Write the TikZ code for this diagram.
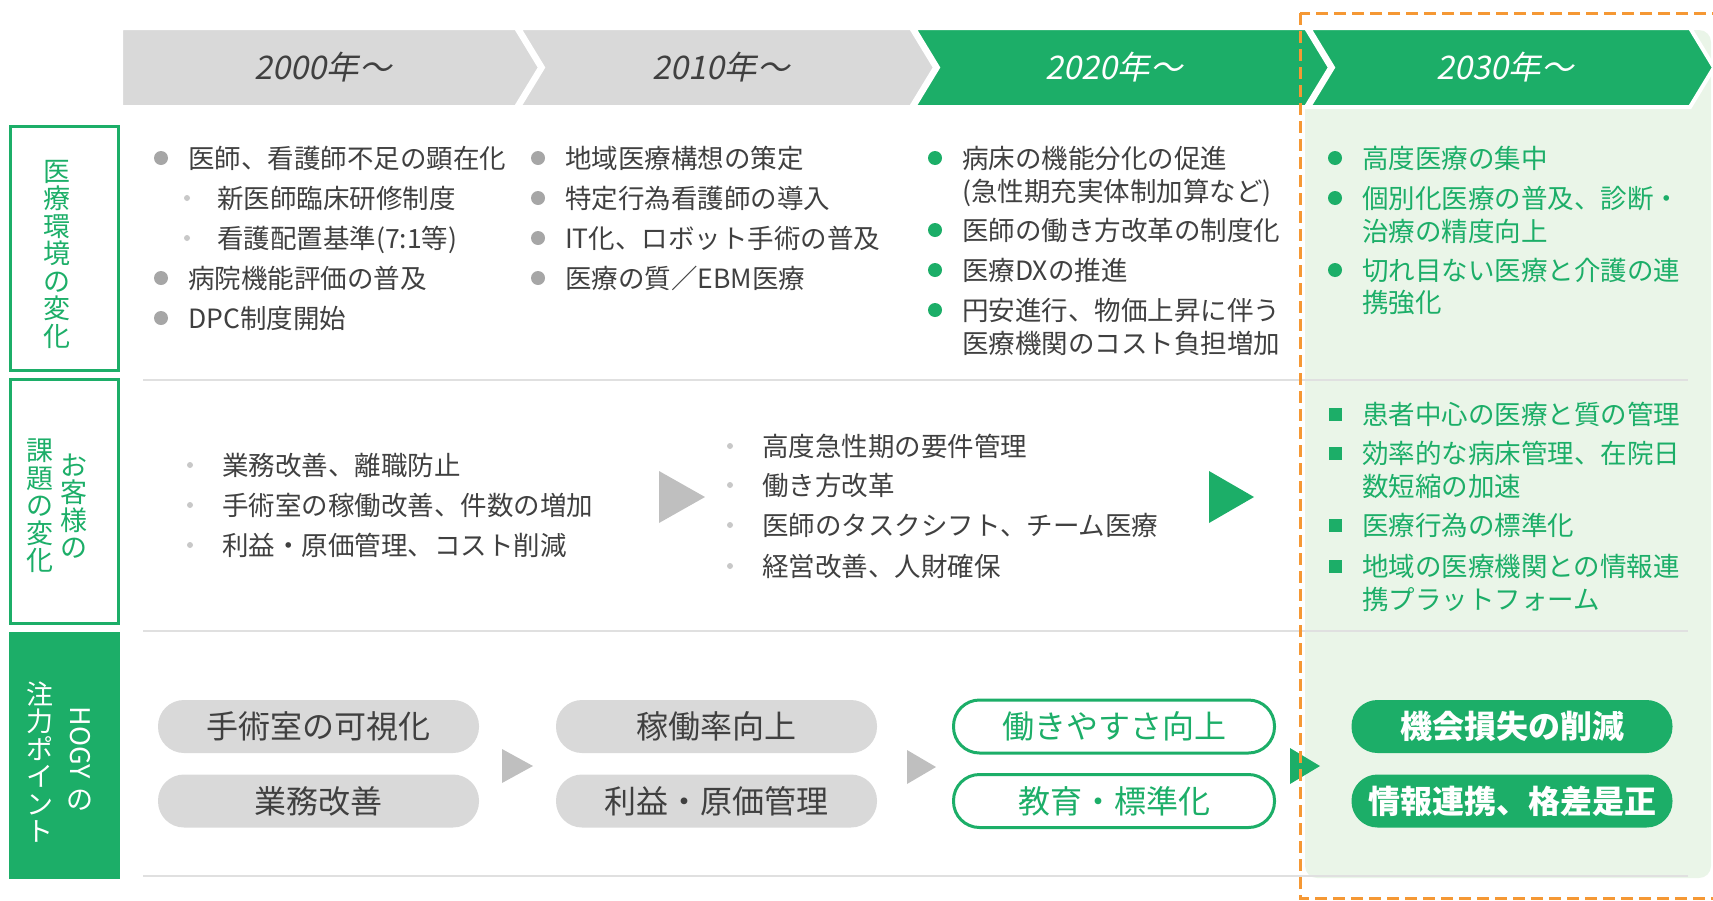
\documentclass[tikz,border=0pt]{standalone}
\usepackage{fontspec}
\setmainfont{Noto Sans CJK JP}
\newfontfamily\yearfont{Noto Sans CJK JP}[FakeSlant=0.2]

\definecolor{hgreen}{RGB}{28,174,104}
\definecolor{lgreen}{RGB}{234,245,232}
\definecolor{hgrey}{RGB}{217,217,217}
\definecolor{txtgrey}{RGB}{64,64,64}
\definecolor{arrgrey}{RGB}{191,191,191}
\definecolor{dotgrey}{RGB}{166,166,166}
\definecolor{subgrey}{RGB}{200,200,200}
\definecolor{sepgrey}{RGB}{224,224,224}
\definecolor{hgorange}{RGB}{245,152,52}

\begin{document}
\begin{tikzpicture}[x=1pt,y=-1pt,
    every node/.style={inner sep=0pt},
    item/.style={anchor=west, text=txtgrey, font=\fontsize{26.5}{30}\selectfont, text height=23pt, text depth=3pt},
    gitem/.style={item, text=hgreen},
    bigdot/.style={circle, fill=dotgrey, minimum size=14pt},
    gdot/.style={bigdot, fill=hgreen},
    subdot/.style={circle, fill=subgrey, minimum size=6pt},
    gsq/.style={fill=hgreen, minimum size=13pt},
    year/.style={font=\yearfont\fontsize{32.5}{32.5}\selectfont},
    vlabel/.style={align=center, font=\fontsize{27}{27.5}\selectfont},
    pill/.style={rounded corners=26pt, minimum width=321pt, minimum height=53pt, font=\fontsize{32}{32}\selectfont},
    greypill/.style={pill, fill=hgrey, text=txtgrey},
    linepill/.style={pill, draw=hgreen, line width=3pt, fill=white, text=hgreen},
    fullpill/.style={pill, fill=hgreen, text=white, font=\fontsize{32}{32}\selectfont\bfseries},
    chev/.style={draw=white, line width=4pt, line join=miter}]

    \useasboundingbox (0,0) rectangle (1713,900);

    % 2030 column background
    \fill[lgreen, rounded corners=12pt] (1305,30) rectangle (1711,878);

    % row separators
    \draw[sepgrey, line width=2pt] (143,380) -- (1688,380);
    \draw[sepgrey, line width=2pt] (143,631) -- (1688,631);
    \draw[sepgrey, line width=2pt] (143,876) -- (1688,876);

    % year chevrons
    \filldraw[chev, fill=hgrey] (121,28) -- (516,28) -- (540,67.5) -- (516,107) -- (121,107) -- cycle;
    \filldraw[chev, fill=hgrey] (519,28) -- (911,28) -- (935,67.5) -- (911,107) -- (519,107) -- (543,67.5) -- cycle;
    \filldraw[chev, fill=hgreen] (914,28) -- (1306,28) -- (1330,67.5) -- (1306,107) -- (914,107) -- (938,67.5) -- cycle;
    \filldraw[chev, fill=hgreen] (1309,28) -- (1690,28) -- (1714,67.5) -- (1690,107) -- (1309,107) -- (1333,67.5) -- cycle;
    \node[year, text=txtgrey] at (323,67.5) (y2000) {2000年～};
    \node[year, text=txtgrey] at (721,67.5) (y2010) {2010年～};
    \node[year, text=white] at (1114,67.5) (y2020) {2020年～};
    \node[year, text=white] at (1505,67.5) (y2030) {2030年～};

    % row headings
    \draw[hgreen, line width=3pt] (10.5,126.5) rectangle (118.5,370.5);
    \draw[hgreen, line width=3pt] (10.5,379.5) rectangle (118.5,623.5);
    \fill[hgreen] (9,632) rectangle (120,879);
    \node[vlabel, text=hgreen] at (57,254) (env) {医\\療\\環\\境\\の\\変\\化};
    \node[vlabel, text=hgreen] at (74,506) (custA) {お\\客\\様\\の};
    \node[vlabel, text=hgreen] at (40,506) (custB) {課\\題\\の\\変\\化};
    \node[font=\fontsize{27}{27}\selectfont, text=white, rotate=-90] at (80,743) (hogy) {HOGY};
    \node[vlabel, text=white] at (80,800) (hogyNo) {の};
    \node[vlabel, text=white] at (40,762) (focus) {注\\力\\ポ\\イ\\ン\\ト};

    % row 1, 2000
    \node[bigdot] at (161,158) (d11a) {};
    \node[item] at (188,158) (t11a) {医師、看護師不足の顕在化};
    \node[subdot] at (187,198) (d11b) {};
    \node[item] at (217,198) (t11b) {新医師臨床研修制度};
    \node[subdot] at (187,238) (d11c) {};
    \node[item] at (217,238) (t11c) {看護配置基準(7:1等)};
    \node[bigdot] at (161,278) (d11d) {};
    \node[item] at (188,278) (t11d) {病院機能評価の普及};
    \node[bigdot] at (161,318) (d11e) {};
    \node[item] at (188,318) (t11e) {DPC制度開始};

    % row 1, 2010
    \node[bigdot] at (538,158) (d12a) {};
    \node[item] at (565,158) (t12a) {地域医療構想の策定};
    \node[bigdot] at (538,198) (d12b) {};
    \node[item] at (565,198) (t12b) {特定行為看護師の導入};
    \node[bigdot] at (538,238) (d12c) {};
    \node[item] at (565,238) (t12c) {IT化、ロボット手術の普及};
    \node[bigdot] at (538,278) (d12d) {};
    \node[item] at (565,278) (t12d) {医療の質／EBM医療};

    % row 1, 2020
    \node[gdot] at (935,158) (d13a) {};
    \node[item] at (962,158) (t13a) {病床の機能分化の促進};
    \node[item] at (962,191) (t13b) {(急性期充実体制加算など)};
    \node[gdot] at (935,230) (d13c) {};
    \node[item] at (962,230) (t13c) {医師の働き方改革の制度化};
    \node[gdot] at (935,270) (d13d) {};
    \node[item] at (962,270) (t13d) {医療DXの推進};
    \node[gdot] at (935,310) (d13e) {};
    \node[item] at (962,310) (t13e) {円安進行、物価上昇に伴う};
    \node[item] at (962,343) (t13f) {医療機関のコスト負担増加};

    % row 1, 2030
    \node[gdot] at (1335,158) (d14a) {};
    \node[gitem] at (1362,158) (t14a) {高度医療の集中};
    \node[gdot] at (1335,198) (d14b) {};
    \node[gitem] at (1362,198) (t14b) {個別化医療の普及、診断・};
    \node[gitem] at (1362,231) (t14c) {治療の精度向上};
    \node[gdot] at (1335,270) (d14d) {};
    \node[gitem] at (1362,270) (t14d) {切れ目ない医療と介護の連};
    \node[gitem] at (1362,302) (t14e) {携強化};

    % row 2, up to 2010
    \node[subdot] at (190,465) (d21a) {};
    \node[item] at (222,465) (t21a) {業務改善、離職防止};
    \node[subdot] at (190,505) (d21b) {};
    \node[item] at (222,505) (t21b) {手術室の稼働改善、件数の増加};
    \node[subdot] at (190,545) (d21c) {};
    \node[item] at (222,545) (t21c) {利益・原価管理、コスト削減};
    \fill[arrgrey] (659,471) -- (705,497) -- (659,523) -- cycle;

    % row 2, 2020
    \node[subdot] at (730,446) (d22a) {};
    \node[item] at (762,446) (t22a) {高度急性期の要件管理};
    \node[subdot] at (730,485) (d22b) {};
    \node[item] at (762,485) (t22b) {働き方改革};
    \node[subdot] at (730,525) (d22c) {};
    \node[item] at (762,525) (t22c) {医師のタスクシフト、チーム医療};
    \node[subdot] at (730,566) (d22d) {};
    \node[item] at (762,566) (t22d) {経営改善、人財確保};
    \fill[hgreen] (1209,471) -- (1254,497) -- (1209,523) -- cycle;

    % row 2, 2030
    \node[gsq] at (1335,414) (s23a) {};
    \node[gitem] at (1362,414) (t23a) {患者中心の医療と質の管理};
    \node[gsq] at (1335,453) (s23b) {};
    \node[gitem] at (1362,453) (t23b) {効率的な病床管理、在院日};
    \node[gitem] at (1362,486) (t23c) {数短縮の加速};
    \node[gsq] at (1335,525) (s23d) {};
    \node[gitem] at (1362,525) (t23d) {医療行為の標準化};
    \node[gsq] at (1335,566) (s23e) {};
    \node[gitem] at (1362,566) (t23e) {地域の医療機関との情報連};
    \node[gitem] at (1362,599) (t23f) {携プラットフォーム};

    % row 3, focus points
    \node[greypill] at (318.5,726.5) (p1a) {手術室の可視化};
    \node[greypill] at (318.5,801) (p1b) {業務改善};
    \fill[arrgrey] (502,749) -- (533,766) -- (502,783) -- cycle;
    \node[greypill] at (716.5,726.5) (p2a) {稼働率向上};
    \node[greypill] at (716.5,801) (p2b) {利益・原価管理};
    \fill[arrgrey] (907,750) -- (936,767) -- (907,784) -- cycle;
    \node[linepill] at (1114,726.5) (p3a) {働きやすさ向上};
    \node[linepill] at (1114,801) (p3b) {教育・標準化};
    \fill[hgreen] (1290,748) -- (1320,766) -- (1290,784) -- cycle;
    \node[fullpill] at (1512,726.5) (p4a) {機会損失の削減};
    \node[fullpill] at (1512,801) (p4b) {情報連携、格差是正};

    % 2030 frame
    \draw[hgorange, line width=3pt, dash pattern=on 12pt off 6pt] (1300,13) rectangle (1716,898);

\end{tikzpicture}
\end{document}
